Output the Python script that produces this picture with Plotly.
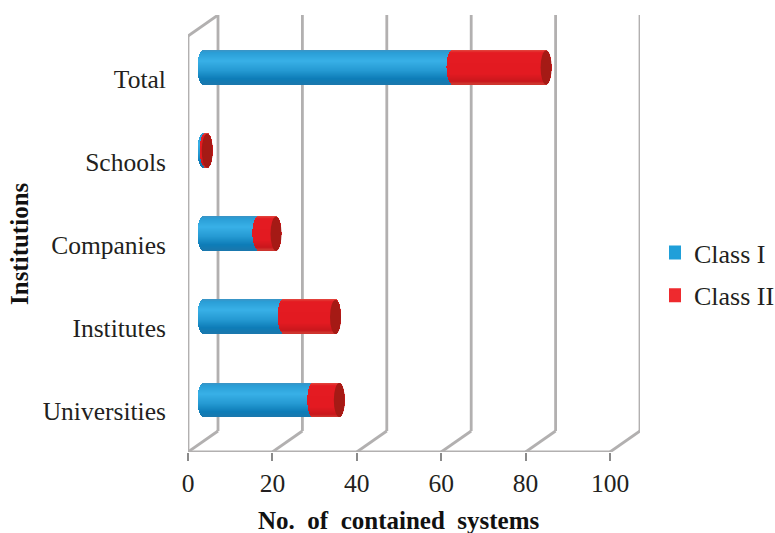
import math
import plotly.graph_objects as go

# Data, bottom row first
institutions = ["Universities", "Institutes", "Companies", "Schools", "Total"]
class_i = [26, 19, 13, 0.5, 59]
class_ii = [6.3, 12.4, 4.3, 0.5, 22.3]
x_ticks = [0, 20, 40, 60, 80, 100]

# Canvas and axis geometry, in pixels
W, H = 775, 533
LEFT, BOTTOM_Y, TOP_Y = 188, 452, 15
PX_PER_UNIT = 4.22
PX_PER_ROW = 83.1
FRONT_ROW0_Y = 411
DEPTH_X, DEPTH_Y = 30, 21
WALL_H = 416
BAR_START_PX = 15
BAR_LIFT_PX = 11
BAR_H_PX = 34
CAP_R_PX = 5.5
RIGHT = LEFT + 100 * PX_PER_UNIT + DEPTH_X

dx = lambda px: px / PX_PER_UNIT
dy = lambda px: px / PX_PER_ROW
y_bottom = (FRONT_ROW0_Y - BOTTOM_Y) / PX_PER_ROW
y_top = (FRONT_ROW0_Y - TOP_Y) / PX_PER_ROW
x_end = (RIGHT - LEFT) / PX_PER_UNIT

WALL = "#b2b0b0"
BLUE = "#1f9fd9"
RED = "#ee2a2e"
CAP_RED = "#a51a15"
BLUE_STOPS = [(0.0, "#3b93c4"), (0.08, "#2a9ed6"), (0.32, "#38b0e7"),
              (0.6, "#259ad3"), (0.85, "#0d7cb7"), (1.0, "#1a78ad")]
RED_STOPS = [(0.0, "#e2483f"), (0.08, "#e41b22"), (0.7, "#e31a21"),
             (0.92, "#c9171c"), (1.0, "#cf3a32")]


def shade(stops, t):
    """Colour of a cylinder band at height t (0 = top, 1 = bottom)."""
    for (t0, c0), (t1, c1) in zip(stops, stops[1:]):
        if t <= t1:
            f = (t - t0) / (t1 - t0)
            rgb = [round(int(c0[i:i + 2], 16) * (1 - f) + int(c1[i:i + 2], 16) * f)
                   for i in (1, 3, 5)]
            return "rgb(%d,%d,%d)" % tuple(rgb)
    return stops[-1][1]


fig = go.Figure()

# Flat core bars carry the legend entries; the bands below paint the round body
for name, colour, base_vals, vals in [
    ("Class I", BLUE, [0] * 5, class_i),
    ("Class II", RED, class_i, class_ii),
]:
    fig.add_trace(go.Bar(
        y=institutions, x=vals, base=[dx(BAR_START_PX) + b for b in base_vals],
        orientation="h", name=name, legendgroup=name,
        marker=dict(color=colour, line=dict(width=2, color=colour)),
        width=dy(2), offset=dy(BAR_LIFT_PX - 1),
    ))

# One horizontal band per pixel row of the cylinder, bent into an ellipse at the ends
bands = BAR_H_PX
for k in range(bands):
    t = (k + 0.5) / bands
    bend = dx(CAP_R_PX) * math.sqrt(max(0.0, 1 - (2 * t - 1) ** 2))
    low = dy(BAR_LIFT_PX + BAR_H_PX / 2 - (k + 1))
    start = dx(BAR_START_PX)
    fig.add_trace(go.Bar(
        y=institutions, x=class_i, base=[start - bend] * 5, orientation="h",
        marker=dict(color=shade(BLUE_STOPS, t), line=dict(width=0)),
        width=dy(1), offset=low, showlegend=False, hoverinfo="skip",
    ))
    fig.add_trace(go.Bar(
        y=institutions, x=[v + 2 * bend for v in class_ii],
        base=[start + a - bend for a in class_i], orientation="h",
        marker=dict(color=shade(RED_STOPS, t), line=dict(width=0)),
        width=dy(1), offset=low, showlegend=False, hoverinfo="skip",
    ))

shapes = []


def wall(x0, y0, x1, y1):
    shapes.append(dict(type="line", xref="x", yref="y", x0=x0, y0=y0, x1=x1, y1=y1,
                       line=dict(color=WALL, width=2.8), layer="below"))


# Floor edges and back-wall verticals follow the x ticks
for v in x_ticks:
    back_x = v + dx(DEPTH_X)
    back_y = y_bottom + dy(DEPTH_Y)
    wall(v, y_bottom, back_x, back_y)
    wall(back_x, back_y, back_x, back_y + dy(WALL_H))
# Front edge of the floor and the left side wall
wall(0, y_bottom, 100, y_bottom)
wall(0, y_bottom, 0, y_bottom + dy(WALL_H))
wall(0, y_bottom + dy(WALL_H), dx(DEPTH_X), y_bottom + dy(DEPTH_Y + WALL_H))

# Dark end faces of the stacked cylinders
for i in range(len(institutions)):
    centre = dx(BAR_START_PX) + class_i[i] + class_ii[i]
    mid = i + dy(BAR_LIFT_PX)
    shapes.append(dict(type="circle", xref="x", yref="y", layer="above",
                       x0=centre - dx(CAP_R_PX), x1=centre + dx(CAP_R_PX),
                       y0=mid - dy(BAR_H_PX / 2), y1=mid + dy(BAR_H_PX / 2),
                       fillcolor=CAP_RED, line=dict(width=0)))

SERIF = "Liberation Serif"
TITLE_FONT = dict(family=SERIF, size=25, weight="bold", color="#111")
fig.update_layout(
    width=W, height=H, margin=dict(l=LEFT, r=W - RIGHT, t=TOP_Y, b=H - BOTTOM_Y),
    paper_bgcolor="white", plot_bgcolor="white",
    barmode="overlay", shapes=shapes, bargap=0,
    font=dict(family=SERIF, color="#231f20"),
    legend=dict(xref="container", yref="container", x=669 / W, y=1 - 229 / H,
                xanchor="left", yanchor="top", tracegroupgap=6, indentation=-15,
                font=dict(family=SERIF, size=26, color="#231f20"),
                bgcolor="rgba(0,0,0,0)", traceorder="grouped"),
    xaxis=dict(range=[0, x_end], tickvals=x_ticks, showgrid=False, zeroline=False,
               showline=False, ticks="outside", ticklen=8, tickwidth=1.5,
               tickcolor="#8a8a8a", tickfont=dict(size=25.5)),
    yaxis=dict(range=[y_bottom, y_top], type="category",
               categoryorder="array", categoryarray=institutions,
               showgrid=False, zeroline=False, showline=False,
               ticks="outside", ticklen=16, tickcolor="rgba(0,0,0,0)",
               tickfont=dict(size=25.5)),
    annotations=[
        dict(text="No.  of  contained  systems", xref="paper", yref="paper",
             x=(399 - LEFT) / (RIGHT - LEFT), y=(BOTTOM_Y - 520) / (BOTTOM_Y - TOP_Y),
             xanchor="center", yanchor="middle", showarrow=False, font=TITLE_FONT),
        dict(text="Institutions", xref="paper", yref="paper", textangle=-90,
             x=(19 - LEFT) / (RIGHT - LEFT), y=(BOTTOM_Y - 244) / (BOTTOM_Y - TOP_Y),
             xanchor="center", yanchor="middle", showarrow=False, font=TITLE_FONT),
    ],
)

fig.write_html("out.html")
